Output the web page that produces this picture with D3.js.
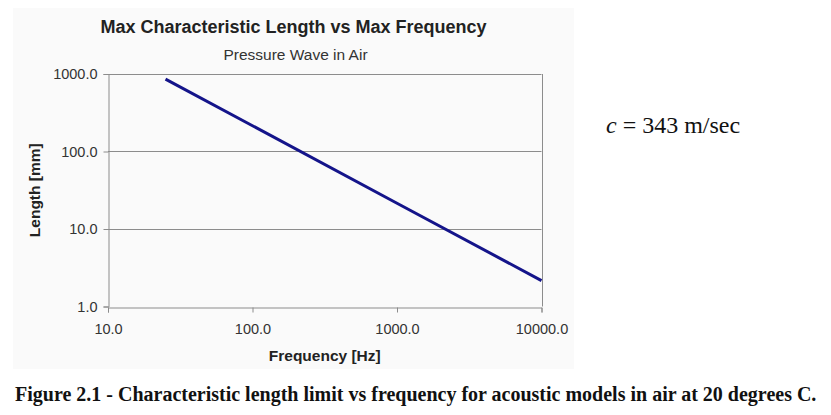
<!DOCTYPE html>
<html>
<head>
<meta charset="utf-8">
<script src="https://cdn.jsdelivr.net/npm/d3@7"></script>
<style>
  body { margin: 0; background: #fff; }
  svg { display: block; }
</style>
</head>
<body>
<svg id="chart"></svg>
<script>
// values (log-log straight line)
const frequencies = [25, 100, 1000, 10000];
const lengths = [860, 215, 21.5, 2.16];
const xTicks = [10, 100, 1000, 10000];
const yTicks = [1, 10, 100, 1000];

const width = 831, height = 415;
const panel = { x: 13, y: 8, w: 561, h: 361 };
const margin = { top: 74, right: 290, bottom: 109, left: 108 };

const sans = "Arial, 'Liberation Sans', sans-serif";
const serif = "'Times New Roman', 'Liberation Serif', serif";

const svg = d3.select("#chart").attr("width", width).attr("height", height);

// chart panel background
svg.append("rect")
  .attr("x", panel.x).attr("y", panel.y)
  .attr("width", panel.w).attr("height", panel.h)
  .attr("fill", "#fafafa");

const x = d3.scaleLog().domain([10, 10000]).range([margin.left, width - margin.right + 0.5]);
const y = d3.scaleLog().domain([1, 1000]).range([height - margin.bottom + 0.5, margin.top]);

const fmt = d3.format(".1f");

// gridlines
svg.append("g")
  .selectAll("line")
  .data(yTicks.slice(1))
  .join("line")
  .attr("x1", x(10)).attr("x2", x(10000))
  .attr("y1", (d) => Math.round(y(d)) + 0.5).attr("y2", (d) => Math.round(y(d)) + 0.5)
  .attr("stroke", "#8c8c8c").attr("stroke-width", 1);

// right border
svg.append("line")
  .attr("x1", Math.round(x(10000)) + 0.5).attr("x2", Math.round(x(10000)) + 0.5)
  .attr("y1", y(1000)).attr("y2", y(1))
  .attr("stroke", "#8c8c8c");

const xAxis = svg.append("g")
  .attr("transform", `translate(0,${Math.round(y(1)) + 0.5})`)
  .call(d3.axisBottom(x).tickValues(xTicks).tickFormat(fmt).tickSize(5).tickPadding(11));
const yAxis = svg.append("g")
  .attr("transform", `translate(${Math.round(x(10)) + 0.5},0)`)
  .call(d3.axisLeft(y).tickValues(yTicks).tickFormat(fmt).tickSize(5).tickPadding(6));

[xAxis, yAxis].forEach((g) => {
  g.select(".domain").attr("stroke", "#8c8c8c");
  g.selectAll(".tick line").attr("stroke", "#8c8c8c");
  g.selectAll(".tick text")
    .attr("font-family", sans)
    .attr("font-size", 14.5).attr("fill", "#333");
});

// data line
const line = d3.line().x((d) => x(d[0])).y((d) => y(d[1]));
svg.append("path")
  .datum(d3.zip(frequencies, lengths))
  .attr("d", line)
  .attr("fill", "none")
  .attr("stroke", "#14148a")
  .attr("stroke-width", 3);

svg.append("text")
  .attr("x", panel.x + panel.w / 2).attr("y", 33)
  .attr("text-anchor", "middle")
  .attr("font-family", sans).attr("font-weight", "bold").attr("font-size", 18)
  .attr("fill", "#222")
  .text("Max Characteristic Length vs Max Frequency");
svg.append("text")
  .attr("x", panel.x + panel.w / 2 + 2).attr("y", 60)
  .attr("text-anchor", "middle")
  .attr("font-family", sans).attr("font-size", 15.5).attr("fill", "#333")
  .text("Pressure Wave in Air");

svg.append("text")
  .attr("transform", `translate(40,${(y(1) + y(1000)) / 2}) rotate(-90)`)
  .attr("text-anchor", "middle")
  .attr("font-family", sans).attr("font-weight", "bold").attr("font-size", 15.5)
  .attr("fill", "#222")
  .text("Length [mm]");
svg.append("text")
  .attr("x", (x(10) + x(10000)) / 2).attr("y", 361)
  .attr("text-anchor", "middle")
  .attr("font-family", sans).attr("font-weight", "bold").attr("font-size", 15.5)
  .attr("fill", "#222")
  .text("Frequency [Hz]");

const cText = svg.append("text")
  .attr("x", 606).attr("y", 133)
  .attr("font-family", serif).attr("font-size", 24).attr("fill", "#111");
cText.append("tspan").attr("font-style", "italic").text("c");
cText.append("tspan").text(" = 343 m/sec");

svg.append("text")
  .attr("x", 15).attr("y", 401)
  .attr("font-family", serif).attr("font-weight", "bold").attr("font-size", 20)
  .attr("fill", "#111")
  .text("Figure 2.1 - Characteristic length limit vs frequency for acoustic models in air at 20 degrees C.");
</script>
</body>
</html>
